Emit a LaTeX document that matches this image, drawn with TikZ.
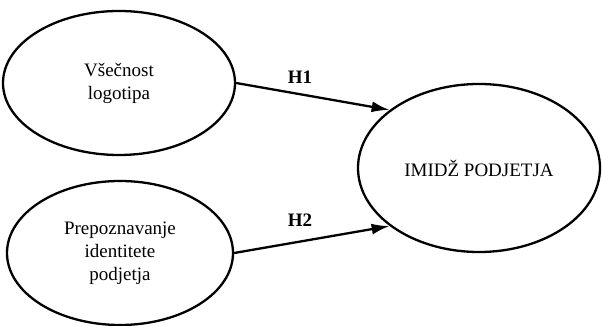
\documentclass[tikz,border=0pt]{standalone}
\usepackage{fontspec}
\setmainfont{Liberation Serif}
\usetikzlibrary{arrows.meta,positioning,shapes.geometric}

\begin{document}
\begin{tikzpicture}[x=1pt,y=1pt,
    oval/.style={ellipse,draw,line width=2.3pt,inner sep=0pt,align=center,
                 font=\fontsize{19}{23}\selectfont},
    lbl/.style={font=\fontsize{19}{23}\selectfont\bfseries,inner sep=0pt},
    arr/.style={-{Latex[length=18pt,width=11pt]},line width=2.3pt}]
    \useasboundingbox (0,0) rectangle (602,326);
    \node[oval,minimum width=232pt,minimum height=144pt] (logo) at (119,243) {Všečnost\\logotipa};
    \node[oval,minimum width=226pt,minimum height=144pt] (ident) at (120,73) {Prepoznavanje\\identitete\\podjetja};
    \node[oval,minimum width=242pt,minimum height=168pt] (imidz) at (479,158) {IMIDŽ PODJETJA};
    \node[lbl] (h1) at (300,249) {H1};
    \node[lbl] (h2) at (300,106) {H2};
    \draw[arr] (logo.east) -- (imidz.147);
    \draw[arr] (ident.east) -- (imidz.213);
\end{tikzpicture}
\end{document}
